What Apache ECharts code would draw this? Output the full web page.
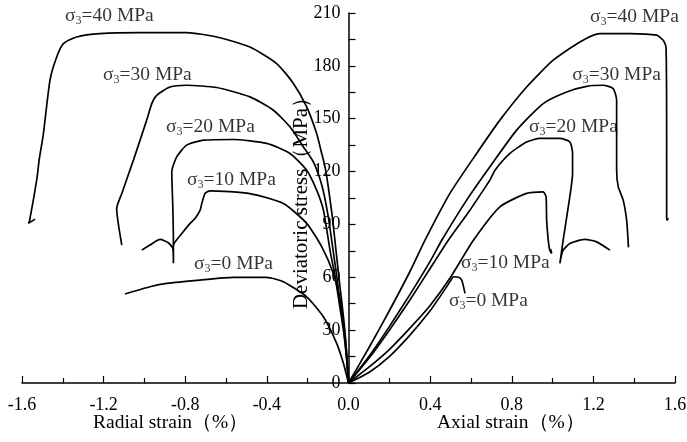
<!DOCTYPE html>
<html>
<head>
<meta charset="utf-8">
<script src="https://cdn.jsdelivr.net/npm/echarts@6/dist/echarts.min.js"></script>
<style>
  html, body { margin: 0; padding: 0; background: #fff; }
  #chart { width: 687px; height: 442px; }
</style>
</head>
<body>
<div id="chart"></div>
<script>
// axial strain (%) vs deviatoric stress (MPa)
const axial0 = [[0,0],[0.1,6],[0.2,15],[0.3,27],[0.4,41],[0.46,51],[0.5,58],[0.514,60.3],[0.54,60],[0.555,58.4],[0.565,54],[0.571,50.9]];
const axial10 = [[0,0],[0.1,9],[0.2,19],[0.3,31],[0.4,44],[0.5,60],[0.612,81],[0.742,100],[0.873,107.6],[0.954,108.5],[0.968,105.7],[0.971,92.4],[0.979,81],[0.987,75],[0.996,73.6],[0.99,76]];
const axial20 = [[0,0],[0.1,14],[0.2,30],[0.3,47],[0.4,65],[0.489,81],[0.595,98.1],[0.677,112.3],[0.693,115.1],[0.718,120.8],[0.791,130.3],[0.873,136.8],[0.938,138.8],[1.036,138.8],[1.085,136.8],[1.098,130.3],[1.098,118.9],[1.077,100],[1.052,81.1],[1.036,67.9],[1.05,75],[1.085,79.2],[1.159,81.5],[1.216,80.1],[1.281,75.4]];
const axial30 = [[0,0],[0.1,15],[0.2,32],[0.3,50],[0.4,69],[0.457,81],[0.579,103.8],[0.693,122.7],[0.824,143.5],[0.954,158.6],[1.069,165.2],[1.167,168.4],[1.248,169],[1.297,167.1],[1.314,160.5],[1.314,141.6],[1.314,120.8],[1.322,111.3],[1.346,103.8],[1.363,92.4],[1.371,79.2],[1.372,77]];
const axial40 = [[0,0],[0.1,20],[0.2,41],[0.3,63],[0.375,81.1],[0.497,107.6],[0.628,130.3],[0.742,149.2],[0.873,168],[1.003,183.2],[1.134,193.6],[1.232,198.3],[1.379,198.3],[1.51,197.4],[1.542,194.5],[1.556,190.7],[1.559,141.6],[1.559,94.3],[1.562,92.4],[1.567,93.5]];

// radial strain (%) vs deviatoric stress (MPa)
const radial0 = [[0,0],[-0.025,11.2],[-0.058,22.5],[-0.123,37.6],[-0.205,48.9],[-0.319,57.5],[-0.401,59.9],[-0.564,59.9],[-0.728,58.4],[-0.891,56.5],[-0.973,54.6],[-1.095,50.5]];
const radial10 = [[0,0],[-0.008,15],[-0.017,26.3],[-0.042,47],[-0.074,62.2],[-0.131,77.3],[-0.205,90.6],[-0.319,101.9],[-0.483,107.5],[-0.679,109.1],[-0.703,107.6],[-0.719,101.9],[-0.727,98.1],[-0.752,93.4],[-0.776,90.6],[-0.817,84.9],[-0.85,80.1],[-0.858,78.3]];
const radial20 = [[0,0],[-0.01,15],[-0.025,30],[-0.045,45],[-0.065,60],[-0.09,75],[-0.123,98.1],[-0.156,109.5],[-0.205,120.8],[-0.287,130.3],[-0.401,136],[-0.564,138.2],[-0.711,137.8],[-0.793,135],[-0.842,128.3],[-0.866,119.8],[-0.861,100],[-0.858,80],[-0.858,67.9],[-0.861,76.4],[-0.883,79.6],[-0.923,81.5],[-0.973,78.3],[-1.013,75.4]];
const radial30 = [[0,0],[-0.01,15],[-0.022,30],[-0.04,45],[-0.057,60],[-0.075,75],[-0.1,95],[-0.13,112],[-0.17,125],[-0.221,134],[-0.287,145.4],[-0.368,154.8],[-0.483,162.4],[-0.646,167.7],[-0.793,169],[-0.875,168],[-0.94,163.3],[-0.964,158.6],[-0.989,149.2],[-1.054,126.5],[-1.111,107.6],[-1.136,99],[-1.111,78.3]];
const radial40 = [[0,0],[-0.008,15],[-0.018,30],[-0.032,45],[-0.047,60],[-0.061,75],[-0.08,95],[-0.1,112],[-0.115,122.7],[-0.135,132],[-0.156,141.6],[-0.205,156.7],[-0.27,170],[-0.352,181.3],[-0.483,190.7],[-0.646,196.4],[-0.793,198.9],[-1.022,198.9],[-1.218,198.3],[-1.332,196.4],[-1.397,192.6],[-1.43,185],[-1.463,171.8],[-1.495,141.6],[-1.515,127.3],[-1.528,115.1],[-1.564,91.5],[-1.569,90.6],[-1.536,93]];

// curve labels: [x, y, confining pressure]
const curveLabels = [
  [-1.389, 208.5, 40], [-1.203, 174.7, 30], [-0.894, 145.2, 20], [-0.791, 115.1, 10], [-0.757, 67.5, 0],
  [1.184, 207.6, 40], [1.096, 174.7, 30], [0.885, 145.2, 20], [0.551, 68, 10], [0.492, 46.5, 0]
];

const FONT = '"Liberation Serif", "Times New Roman", serif';
const curves = [axial0, axial10, axial20, axial30, axial40, radial0, radial10, radial20, radial30, radial40];

const GRID_W = 687 - 22 - 12;

const chart = echarts.init(document.getElementById('chart'));

const lineSeries = curves.map(d => ({
  type: 'line',
  data: d,
  showSymbol: false,
  smooth: 0.2,
  lineStyle: { color: '#000', width: 1.7 },
  silent: true
}));

chart.setOption({
  animation: false,
  grid: { left: 22, right: 12, top: 13, bottom: 59, containLabel: false, outerBoundsMode: 'none' },
  xAxis: {
    type: 'value',
    min: -1.6, max: 1.6, interval: 0.4,
    axisLine: { onZero: true, lineStyle: { color: '#000', width: 1.5 } },
    axisTick: { inside: true, length: 7, lineStyle: { color: '#000', width: 1.2 } },
    minorTick: { show: true, splitNumber: 2, length: 5, lineStyle: { color: '#000', width: 1.2 } },
    axisLabel: { color: '#000', fontFamily: FONT, fontSize: 18, margin: 13, formatter: v => v.toFixed(1) },
    splitLine: { show: false }
  },
  yAxis: {
    type: 'value',
    min: 0, max: 210, interval: 30,
    offset: -GRID_W / 2,
    name: 'Deviatoric stress（MPa）',
    nameLocation: 'middle',
    nameGap: 37,
    nameMoveOverlap: false,
    nameTextStyle: { color: '#000', fontFamily: FONT, fontSize: 21 },
    axisLine: { onZero: false, lineStyle: { color: '#000', width: 1.5 } },
    axisTick: { inside: true, length: 7, lineStyle: { color: '#000', width: 1.2 } },
    minorTick: { show: true, splitNumber: 2, length: 7, lineStyle: { color: '#000', width: 1.2 } },
    axisLabel: { color: '#000', fontFamily: FONT, fontSize: 18, margin: 8 },
    splitLine: { show: false }
  },
  graphic: [
    { type: 'text', left: 93, top: 413, style: { text: 'Radial strain（%）', font: '19.5px ' + FONT, fill: '#000' } },
    { type: 'text', left: 437, top: 413, style: { text: 'Axial strain（%）', font: '19.5px ' + FONT, fill: '#000' } }
  ],
  series: lineSeries.concat([{
    type: 'scatter',
    data: curveLabels,
    symbolSize: 0,
    silent: true,
    label: {
      show: true,
      position: 'right',
      distance: 0,
      color: '#000',
      fontFamily: FONT,
      formatter: p => '{a|σ}{b|3}{a|=' + p.value[2] + ' MPa}',
      rich: {
        a: { fontFamily: FONT, fontSize: 19.5, color: '#000' },
        b: { fontFamily: FONT, fontSize: 12, color: '#000', padding: [10, 0, 0, 0] }
      }
    }
  }])
});
</script>
</body>
</html>
